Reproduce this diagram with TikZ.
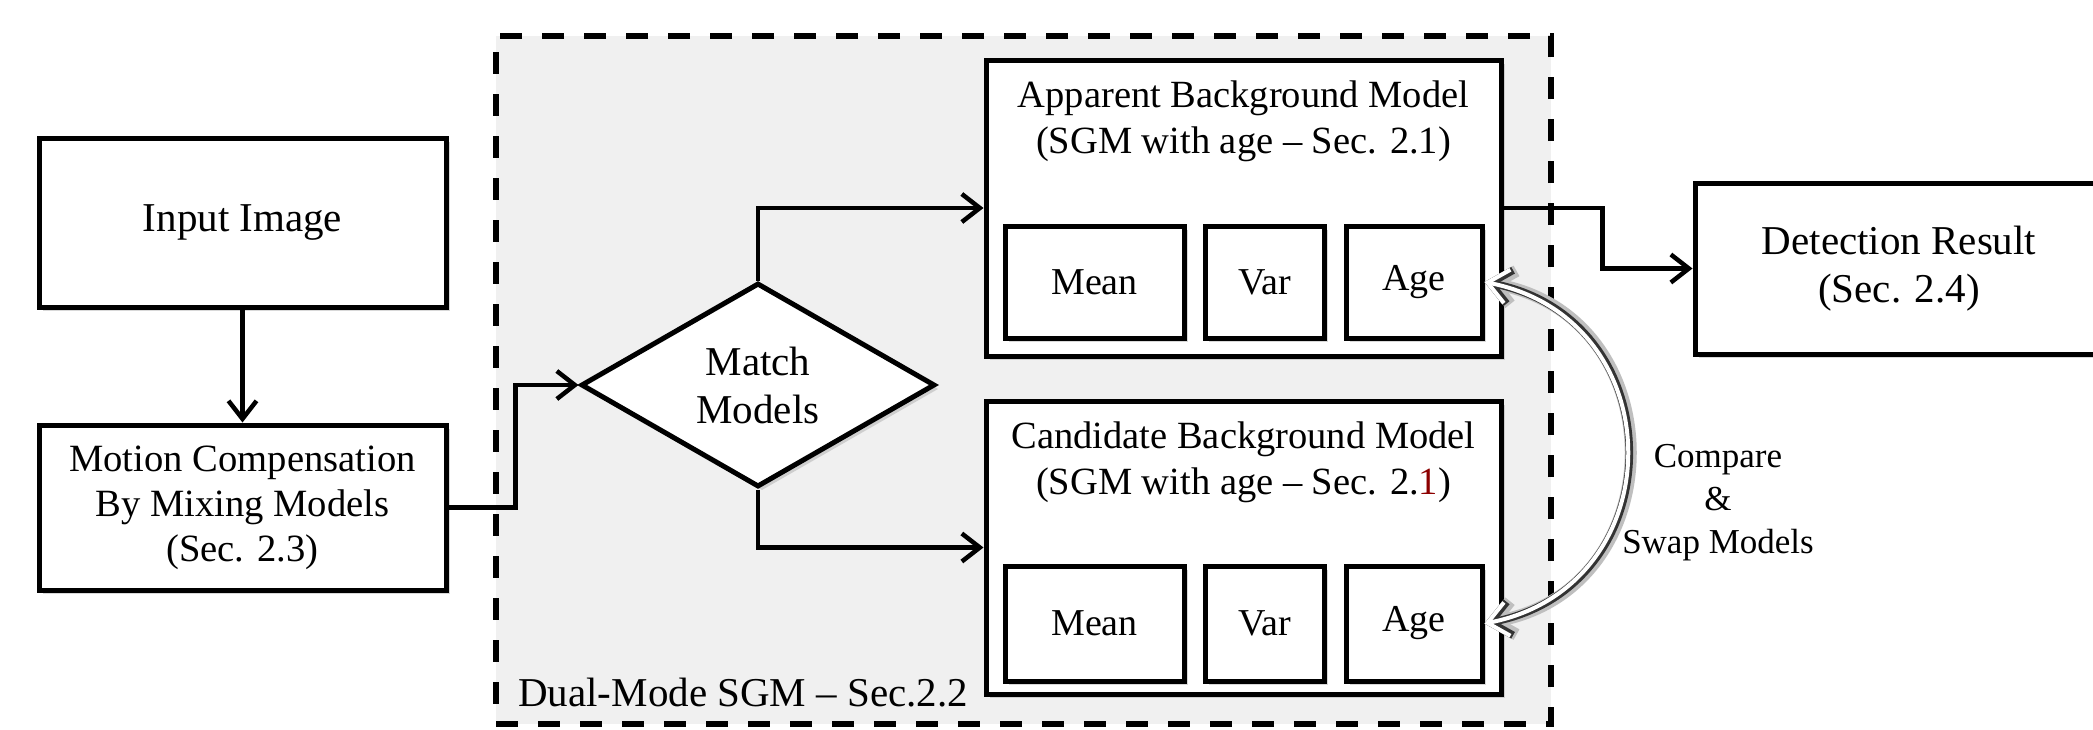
\documentclass[tikz,border=0pt]{standalone}
\usepackage{fontspec}
\setmainfont{Liberation Serif}
\usetikzlibrary{shapes.geometric,arrows.meta,shadows,calc}
\begin{document}
\begin{tikzpicture}[x=1pt,y=-1pt,
  shad/.style={drop shadow={shadow xshift=4pt, shadow yshift=-4pt, opacity=0.3}},
  box/.style={draw, line width=5, fill=white, inner sep=0, align=center, shad},
  inbox/.style={box, minimum width=#1},
  diam/.style={diamond, draw, line width=5, fill=white, inner sep=0, align=center,
    minimum width=354, minimum height=204, aspect=1.735, shad},
  conn/.style={line width=4.5, -{Straight Barb[length=18pt,width=28pt]}},
  fA/.style={font={\fontsize{41}{48}\selectfont}},
  fB/.style={font={\fontsize{38.6}{45}\selectfont}},
  fT/.style={font={\fontsize{38.5}{46}\selectfont}},
  fI/.style={font={\fontsize{38}{44}\selectfont}},
  fL/.style={font={\fontsize{35}{43}\selectfont}},
  fD/.style={font={\fontsize{41}{48}\selectfont}},
  swaptip/.style={{Straight Barb[length=20pt,width=34pt]}-{Straight Barb[length=20pt,width=34pt]}}
]
\useasboundingbox (0,0) rectangle (2093,729);
\fill[white] (0,0) rectangle (2093,729);

% dual-mode region
\node[draw, fill=black!6, line width=6.5, dash pattern=on 22pt off 20pt,
  minimum width=1055, minimum height=688, inner sep=0] (dual) at (1023.5,380) {};
\node[fD, anchor=base west, inner sep=0] (dlab) at (518,706) {Dual-Mode SGM – Sec.2.2};

% left column
\node[box, fA, minimum width=407, minimum height=169] (inp) at (242.5,222.5) {Input Image};
\node[box, fB, minimum width=407, minimum height=165] (mot) at (242.5,507.5)
  {Motion Compensation\\By Mixing Models\\(Sec. 2.3)};

% diamond
\node[diam, fA] (dm) at (758,385) {Match\\Models};

% apparent model
\node[box, minimum width=515, minimum height=296] (app) at (1243.5,208) {};
\node[fT, align=center, inner sep=0] (appT) at (1243.5,121)
  {Apparent Background Model\\(SGM with age – Sec. 2.1)};
\node[inbox=179, fI, minimum height=112] (meanA) at (1094.5,282) {Mean};
\node[inbox=119, fI, minimum height=112] (varA) at (1264.5,282) {Var};
\node[inbox=136, fI, minimum height=112] (ageA) at (1414,282) {Age};

% candidate model
\node[box, minimum width=515, minimum height=293] (cand) at (1243.5,547.5) {};
\node[fT, align=center, inner sep=0] (candT) at (1243.5,462.5)
  {Candidate Background Model\\(SGM with age – Sec. 2.{\color{red!55!black}1})};
\node[inbox=179, fI, minimum height=115] (meanC) at (1094.5,623.5) {Mean};
\node[inbox=119, fI, minimum height=115] (varC) at (1264.5,623.5) {Var};
\node[inbox=136, fI, minimum height=115] (ageC) at (1414,623.5) {Age};

% detection result
\node[box, fA, minimum width=408, minimum height=171] (det) at (1899,268.5)
  {Detection Result\\(Sec. 2.4)};

% connectors
\draw[conn] (inp) -- (mot);
\draw[conn] (mot.east) -- ++(67,0) |- (dm.west);
\draw[conn] (dm.north) |- (app.west);
\draw[conn] (dm.south) |- (cand.west);
\draw[conn] (app.east) -- ++(99,0) |- (det.west);

% compare & swap arrow
\draw[line width=12, black!25, swaptip] (ageA.east) .. controls +(190,37) and +(190,-37) .. (ageC.east);
\draw[line width=7.5, black!80, swaptip] (ageA.east) .. controls +(190,37) and +(190,-37) .. (ageC.east);
\draw[line width=4, white, swaptip] (ageA.east) .. controls +(190,37) and +(190,-37) .. (ageC.east);
\node[fL, align=center] (cmp) at (1718,503) {Compare\\\&\\Swap Models};
\end{tikzpicture}
\end{document}
